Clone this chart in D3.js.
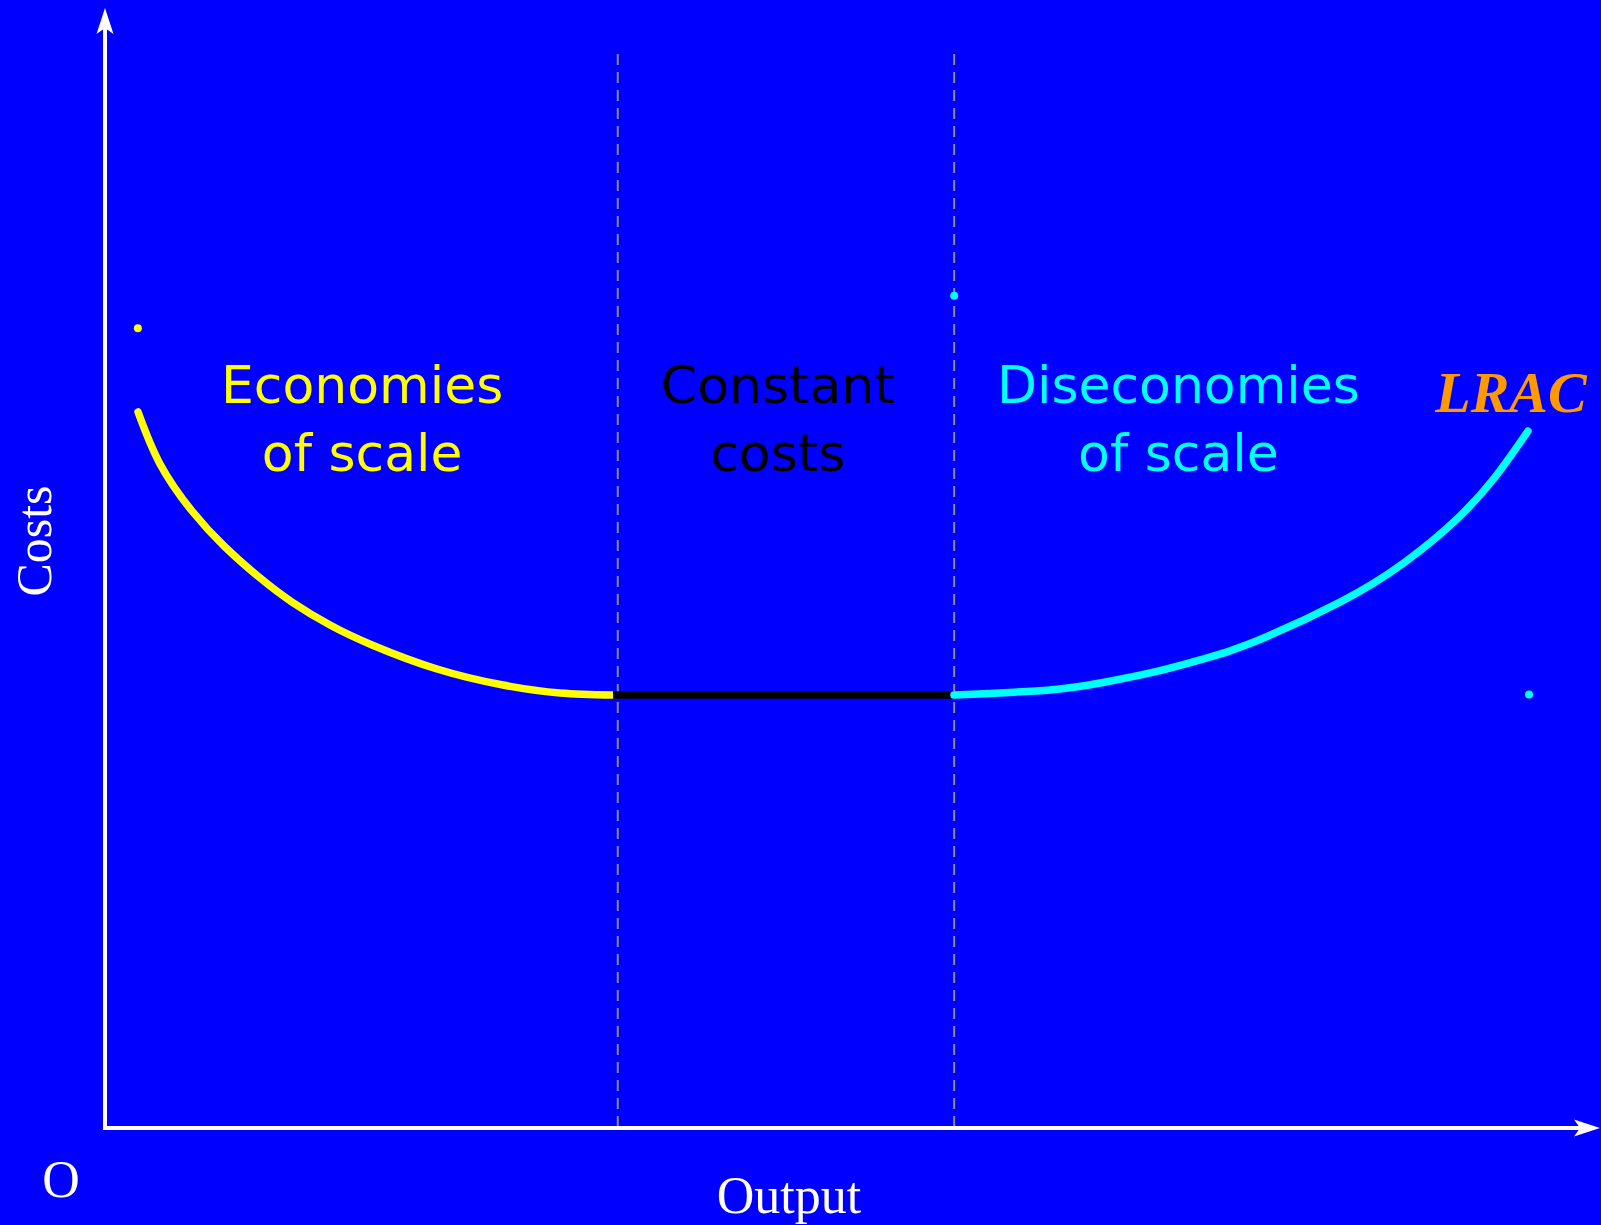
<!DOCTYPE html>
<html>
<head>
<meta charset="utf-8">
<script src="https://cdn.jsdelivr.net/npm/d3@7"></script>
<style>
  html, body { margin: 0; padding: 0; background: #0000ff; }
  svg { display: block; }
</style>
</head>
<body>
<div id="chart"></div>
<script>
// LRAC curve (output units 0-100, cost units 0-100)
const economiesOutput = [2.21, 3.68, 5.82, 8.03, 10.37, 12.51, 15.05, 17.86, 22.21, 26.62, 30.43, 33.98];
const economiesCost   = [63.93, 59.29, 55.09, 51.88, 49.11, 46.96, 44.91, 43.13, 40.98, 39.55, 38.84, 38.66];
const constantOutput  = [33.98, 56.79];
const constantCost    = [38.66, 38.66];
const diseconOutput   = [56.79, 63.21, 66.56, 69.90, 73.24, 76.59, 82.61, 86.96, 90.43, 92.98, 95.18];
const diseconCost     = [38.66, 39.11, 39.73, 40.63, 41.79, 43.26, 46.96, 50.54, 54.38, 58.13, 62.23];
// boundaries between the three zones
const zoneBounds = [34.3, 56.8];
const zoneTop = 95.9;
// stray marker dots on the slide
const dotOutput = [2.2, 56.8, 95.25];
const dotCost   = [71.4, 74.3, 38.7];
const dotColor  = ['#ffff00', '#00ffff', '#00ffff'];
// zone labels
const zoneLines  = [['Economies', 'of scale'], ['Constant', 'costs'], ['Diseconomies', 'of scale']];
const zoneCenter = [17.2, 45.0, 71.8];
const zoneColor  = ['#ffff00', '#000000', '#00ffff'];

class CostChart {
    constructor(_config) {
        this.config = {
            parentElement: _config.parentElement,
            containerWidth: _config.containerWidth || 1601,
            containerHeight: _config.containerHeight || 1225
        };
        this.initVis();
        this.renderVis();
    }

    initVis() {
        let vis = this;

        vis.svg = d3.select(vis.config.parentElement)
            .append('svg')
            .attr('width', vis.config.containerWidth)
            .attr('height', vis.config.containerHeight);

        vis.svg.append('rect')
            .attr('width', vis.config.containerWidth)
            .attr('height', vis.config.containerHeight)
            .attr('fill', '#0000ff');

        vis.xScale = d3.scaleLinear().domain([0, 100]).range([105, 1600]);
        vis.yScale = d3.scaleLinear().domain([0, 100]).range([1128, 8]);
    }

    renderVis() {
        let vis = this;
        const x = vis.xScale, y = vis.yScale;
        const x0 = x(0), y0 = y(0);

        // dashed zone boundaries
        vis.svg.selectAll('.bound')
            .data(zoneBounds)
            .join('line')
            .attr('class', 'bound')
            .attr('x1', d => x(d)).attr('x2', d => x(d))
            .attr('y1', y(zoneTop)).attr('y2', y0)
            .attr('stroke', '#8c8c8c')
            .attr('stroke-width', 2)
            .attr('stroke-dasharray', '11,7');

        // axes
        vis.svg.append('line')
            .attr('x1', x0).attr('y1', y0 + 2)
            .attr('x2', x0).attr('y2', y(100) + 20)
            .attr('stroke', '#fff').attr('stroke-width', 4);
        vis.svg.append('line')
            .attr('x1', x0 - 2).attr('y1', y0)
            .attr('x2', x(100) - 20).attr('y2', y0)
            .attr('stroke', '#fff').attr('stroke-width', 4);

        // arrow heads
        const ty = y(100);
        vis.svg.append('path')
            .attr('d', `M${x0},${ty} L${x0 + 8.5},${ty + 26} L${x0},${ty + 20} L${x0 - 8.5},${ty + 26} Z`)
            .attr('fill', '#fff');
        const tx = x(100);
        vis.svg.append('path')
            .attr('d', `M${tx},${y0} L${tx - 26},${y0 - 8.5} L${tx - 20},${y0} L${tx - 26},${y0 + 8.5} Z`)
            .attr('fill', '#fff');

        // curve segments
        const line = d3.line()
            .x(d => x(d[0]))
            .y(d => y(d[1]))
            .curve(d3.curveNatural);

        const segments = [
            { pts: d3.zip(economiesOutput, economiesCost), color: '#ffff00', cap: 'round' },
            { pts: d3.zip(constantOutput, constantCost), color: '#000000', cap: 'butt' },
            { pts: d3.zip(diseconOutput, diseconCost), color: '#00ffff', cap: 'round' }
        ];
        vis.svg.selectAll('.seg')
            .data(segments)
            .join('path')
            .attr('class', 'seg')
            .attr('d', d => line(d.pts))
            .attr('fill', 'none')
            .attr('stroke', d => d.color)
            .attr('stroke-width', 7.5)
            .attr('stroke-linecap', d => d.cap);

        // dots
        vis.svg.selectAll('.dot')
            .data(d3.zip(dotOutput, dotCost, dotColor))
            .join('circle')
            .attr('class', 'dot')
            .attr('cx', d => x(d[0]))
            .attr('cy', d => y(d[1]))
            .attr('r', 4)
            .attr('fill', d => d[2]);

        // zone labels
        const labels = vis.svg.selectAll('.zone')
            .data(d3.zip(zoneLines, zoneCenter, zoneColor))
            .join('text')
            .attr('class', 'zone')
            .attr('text-anchor', 'middle')
            .attr('font-family', '"Comic Sans MS", "DejaVu Sans", sans-serif')
            .attr('font-size', 52)
            .attr('fill', d => d[2]);
        labels.selectAll('tspan')
            .data(d => d[0].map((t, i) => ({ t, i, cx: d[1] })))
            .join('tspan')
            .attr('x', d => x(d.cx))
            .attr('y', d => 403 + d.i * 68)
            .text(d => d.t);

        // LRAC
        vis.svg.append('text')
            .attr('x', 1511).attr('y', 412)
            .attr('text-anchor', 'middle')
            .attr('font-family', '"Liberation Serif", "Times New Roman", serif')
            .attr('font-weight', 'bold')
            .attr('font-style', 'italic')
            .attr('font-size', 58)
            .attr('fill', '#ff9900')
            .text('LRAC');

        // axis titles
        const serif = '"Liberation Serif", "Times New Roman", serif';
        vis.svg.append('text')
            .attr('x', 61).attr('y', 1197)
            .attr('text-anchor', 'middle')
            .attr('font-family', serif).attr('font-size', 52)
            .attr('fill', '#fff')
            .text('O');
        vis.svg.append('text')
            .attr('x', 789).attr('y', 1213)
            .attr('text-anchor', 'middle')
            .attr('font-family', serif).attr('font-size', 52)
            .attr('fill', '#fff')
            .text('Output');
        vis.svg.append('text')
            .attr('transform', 'translate(51,541) rotate(-90)')
            .attr('text-anchor', 'middle')
            .attr('font-family', serif).attr('font-size', 50)
            .attr('fill', '#fff')
            .text('Costs');

        return vis.svg.node();
    }
}

new CostChart({ parentElement: '#chart' });
</script>
</body>
</html>
